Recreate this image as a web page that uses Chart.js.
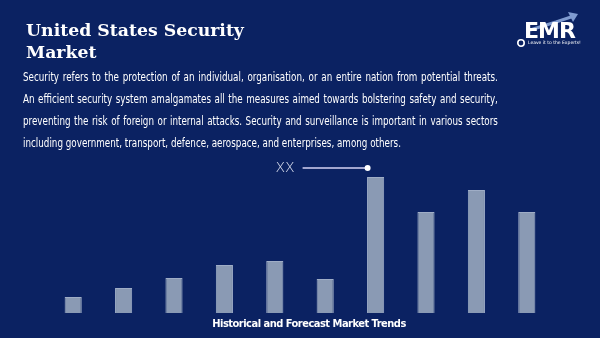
<!DOCTYPE html>
<html>
<head>
<meta charset="utf-8">
<script src="https://cdn.jsdelivr.net/npm/chart.js"></script>
<style>
  html, body { margin: 0; padding: 0; }
  body { width: 600px; height: 338px; background: #0b2262; position: relative; overflow: hidden; }
  #chart { position: absolute; left: 0; top: 0; }
  .title { position: absolute; left: 26px; top: 19px; color: #fff; font-family: "DejaVu Serif", serif; font-weight: bold; font-size: 17.3px; line-height: 22px; }
  .para { position: absolute; left: 23px; top: 65.5px; width: 560px; transform: scaleX(0.848); transform-origin: 0 0; color: #fff; font-family: "Liberation Sans Narrow", "DejaVu Sans Condensed", sans-serif; font-size: 11.5px; line-height: 22.3px; }
  .para div { text-align: justify; text-align-last: justify; }
  .para div.last { text-align-last: left; }
  .foot { position: absolute; left: 0; width: 618px; top: 317px; text-align: center; color: #fff; font-family: "Liberation Sans Narrow", "DejaVu Sans Condensed", sans-serif; font-weight: bold; font-size: 11px; letter-spacing: -0.5px; }
  .logo { position: absolute; left: 516px; top: 8px; width: 70px; height: 42px; }
  .logo .emr { position: absolute; left: 8px; top: 12px; color: #fff; font-family: "DejaVu Sans", sans-serif; font-weight: bold; font-size: 22px; line-height: 22px; letter-spacing: -1px; }
  .logo .tag { position: absolute; left: 12px; top: 32px; color: #fff; font-family: "DejaVu Sans", sans-serif; font-size: 4.5px; white-space: nowrap; }
</style>
</head>
<body>
<canvas id="chart" width="600" height="338"></canvas>
<div class="title">United States Security<br>Market</div>
<div class="para">
  <div>Security refers to the protection of an individual, organisation, or an entire nation from potential threats.</div>
  <div>An efficient security system amalgamates all the measures aimed towards bolstering safety and security,</div>
  <div>preventing the risk of foreign or internal attacks. Security and surveillance is important in various sectors</div>
  <div class="last">including government, transport, defence, aerospace, and enterprises, among others.</div>
</div>
<div class="foot">Historical and Forecast Market Trends</div>
<div class="logo">
  <svg width="70" height="42" style="position:absolute;left:0;top:0">
    <path d="M14 22 L40 14 L58 8" stroke="#7f9bd0" stroke-width="3" fill="none"/>
    <path d="M52 4 L62 6 L57 14 Z" fill="#7f9bd0"/>
    <circle cx="5" cy="35" r="3.2" stroke="#fff" stroke-width="1.6" fill="none"/>
  </svg>
  <div class="emr">EMR</div>
  <div class="tag">Leave it to the Experts!</div>
</div>
<script>
// bar chart values
const years = ['2018', '2019', '2020', '2021', '2022', '2023', '2024', '2025', '2026', '2027'];
const marketValues = [16, 25, 35, 48, 52, 34, 136, 101, 123, 101];
const markerLabel = 'XX';
const markerIndex = 6;

// draws the "XX ——●" callout next to the top of the highlighted bar
const calloutPlugin = {
  id: 'callout',
  afterDatasetsDraw(chart) {
    const bar = chart.getDatasetMeta(0).data[markerIndex];
    const ctx = chart.ctx;
    const dotX = bar.x - 8;
    const dotY = bar.y - 9;
    ctx.save();
    ctx.strokeStyle = '#d6d3f5';
    ctx.lineWidth = 1.5;
    ctx.beginPath();
    ctx.moveTo(dotX - 65, dotY);
    ctx.lineTo(dotX, dotY);
    ctx.stroke();
    ctx.fillStyle = '#ffffff';
    ctx.beginPath();
    ctx.arc(dotX, dotY, 3, 0, Math.PI * 2);
    ctx.fill();
    ctx.font = '300 14px "DejaVu Sans", sans-serif';
    ctx.fillStyle = '#e0e4f2';
    ctx.textAlign = 'right';
    ctx.textBaseline = 'middle';
    ctx.fillText(markerLabel, dotX - 73, dotY);
    ctx.restore();
  }
};

new Chart(document.getElementById('chart'), {
  type: 'bar',
  data: {
    labels: years,
    datasets: [{
      data: marketValues,
      backgroundColor: '#8a9ab4',
      borderColor: '#9fadc6',
      borderWidth: 1,
      barPercentage: 0.34,
      categoryPercentage: 1
    }]
  },
  options: {
    responsive: false,
    animation: false,
    layout: { padding: { left: 48, right: 48, top: 163, bottom: 25 } },
    scales: {
      x: { display: false },
      y: { display: false, min: 0, max: 150 }
    },
    plugins: {
      legend: { display: false },
      tooltip: { enabled: false }
    }
  },
  plugins: [calloutPlugin]
});
</script>
</body>
</html>
